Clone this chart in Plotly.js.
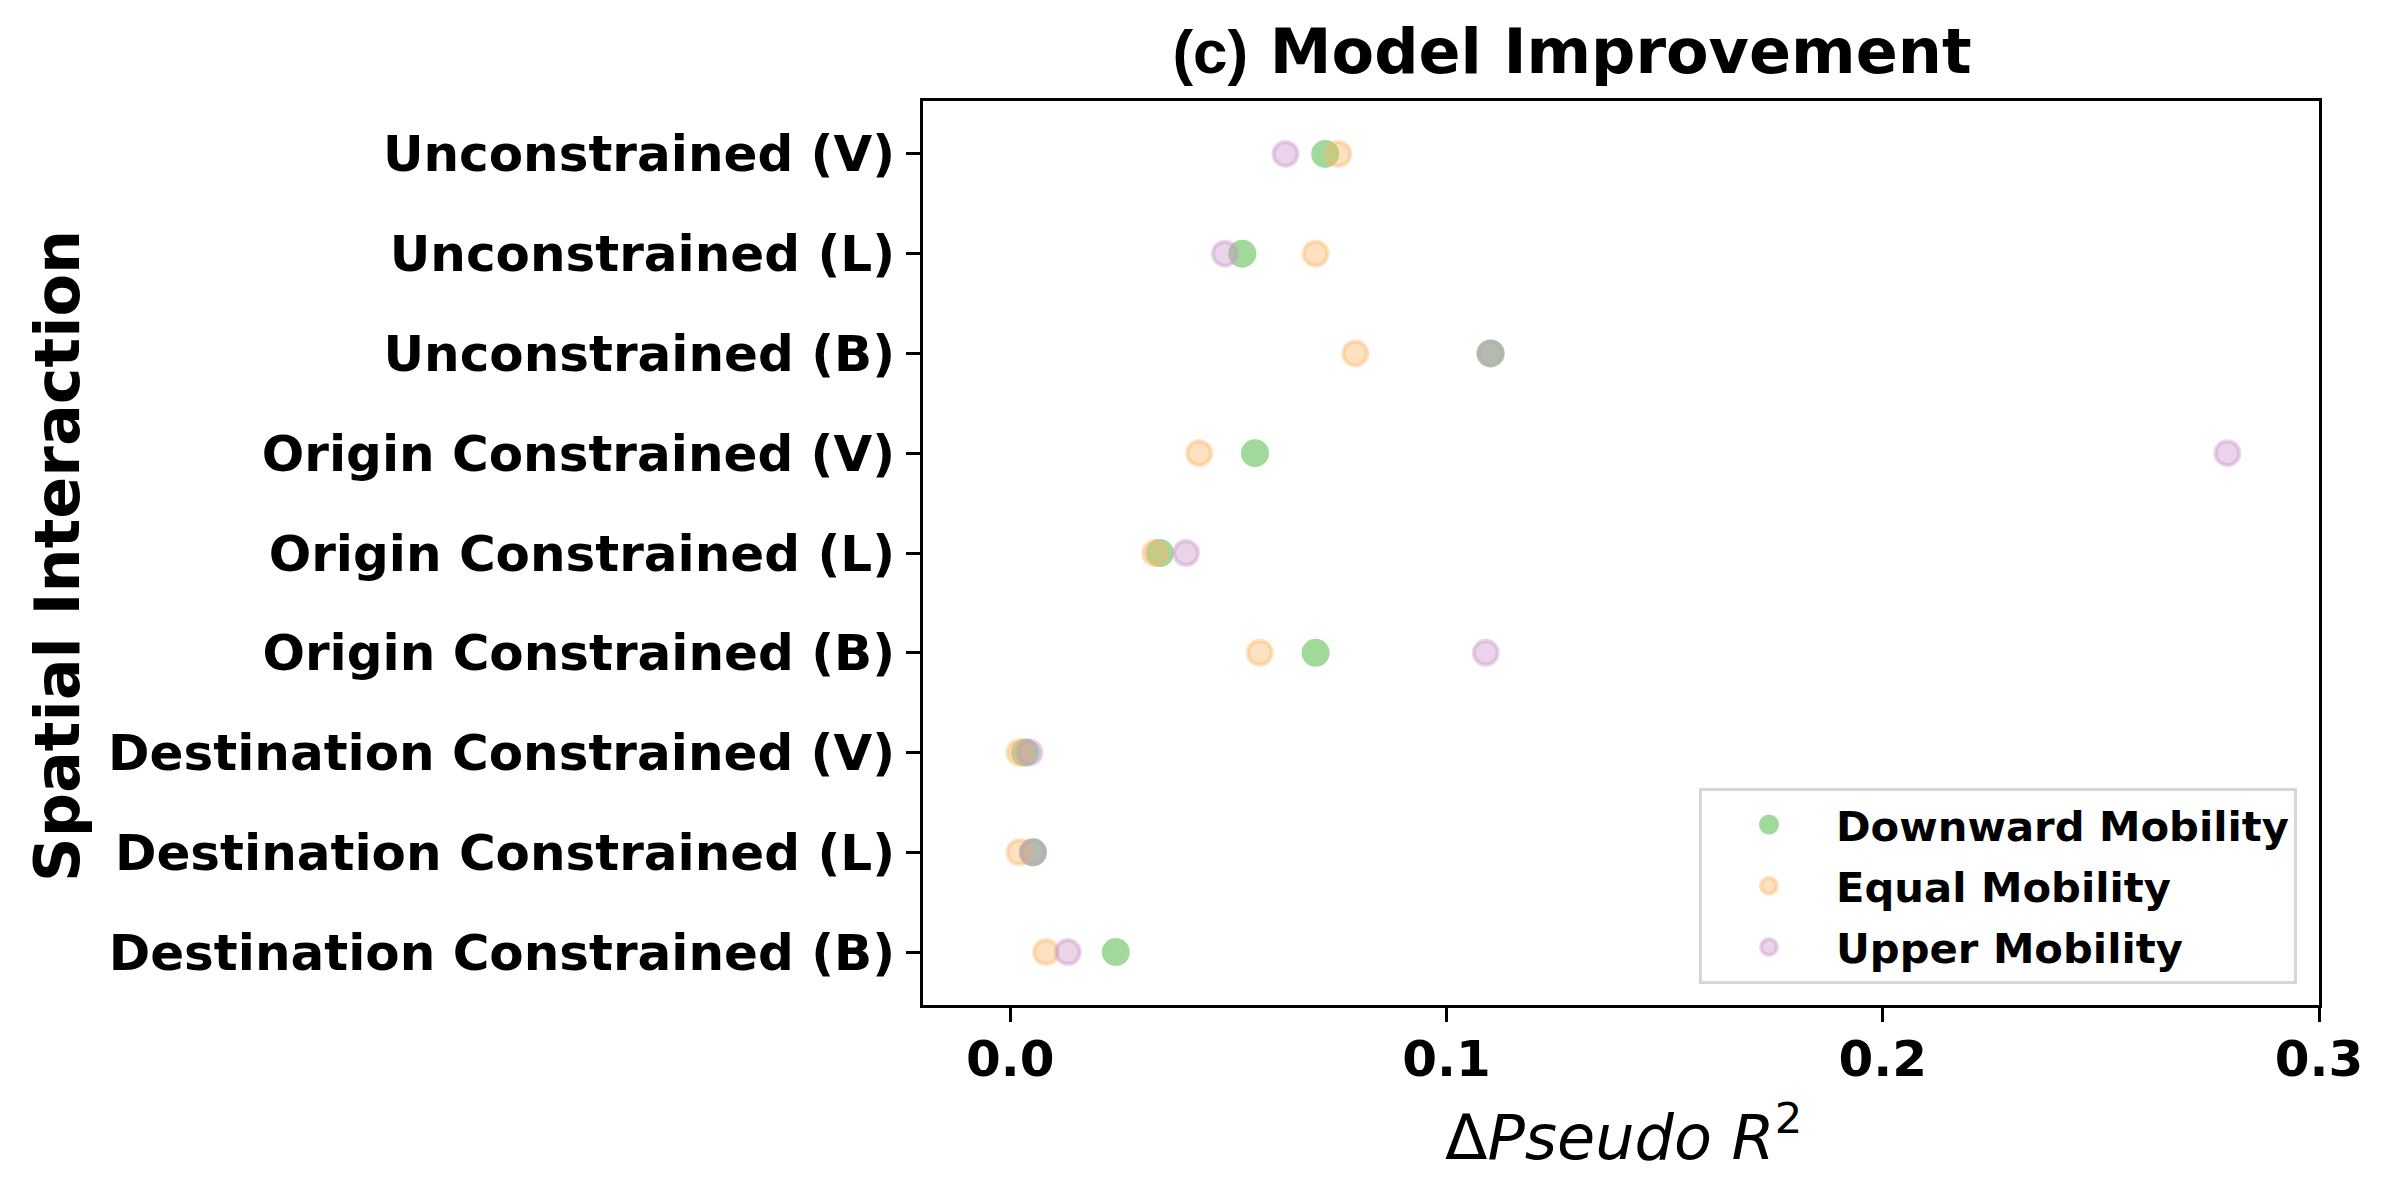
<!DOCTYPE html>
<html>
<head>
<meta charset="utf-8">
<script src="https://cdn.plot.ly/plotly-3.0.1.min.js"></script>
<style>
  html, body { margin: 0; padding: 0; background: #ffffff; }
  #chart { width: 2392px; height: 1195px; }
</style>
</head>
<body>
<div id="chart"></div>
<script>
// ---- data ----
const categories = [
  "Unconstrained (V)",
  "Unconstrained (L)",
  "Unconstrained (B)",
  "Origin Constrained (V)",
  "Origin Constrained (L)",
  "Origin Constrained (B)",
  "Destination Constrained (V)",
  "Destination Constrained (L)",
  "Destination Constrained (B)"
];
const downwardMobility = [0.0722, 0.0532, 0.1101, 0.0561, 0.0343, 0.0700, 0.0034, 0.0052, 0.0242];
const equalMobility    = [0.0752, 0.0700, 0.0791, 0.0433, 0.0332, 0.0572, 0.0021, 0.0021, 0.0082];
const upperMobility    = [0.0631, 0.0492, 0.1101, 0.2790, 0.0403, 0.1090, 0.0044, 0.0052, 0.0132];
const seriesNames = ["Downward Mobility", "Equal Mobility", "Upper Mobility"];
const xTickVals = [0.0, 0.1, 0.2, 0.3];
const xTickText = ["0.0", "0.1", "0.2", "0.3"];

const FONT = "DejaVu Sans";
const W = 2392, H = 1195;
const M = {l: 923, r: 73, t: 101, b: 190};
const plotW = W - M.l - M.r, plotH = H - M.t - M.b;

function trace(name, values, fill, line, group) {
  return {
    type: "scatter",
    mode: "markers",
    name: name,
    legendgroup: group,
    x: values,
    y: categories,
    marker: {size: 24, color: fill, line: {color: line, width: 4}},
    hoverinfo: "skip"
  };
}

const data = [
  trace(seriesNames[0], downwardMobility, "rgb(161,217,155)", "rgb(161,217,155)", "g1"),
  trace(seriesNames[1], equalMobility, "rgba(253,180,98,0.4)", "rgba(253,180,98,0.4)", "g2"),
  trace(seriesNames[2], upperMobility, "rgba(201,148,199,0.4)", "rgba(201,148,199,0.4)", "g3")
];

function px2paperX(px) { return (px - M.l) / plotW; }
function px2paperY(py) { return (H - M.b - py) / plotH; }

const layout = {
  width: W, height: H,
  margin: M,
  paper_bgcolor: "#ffffff",
  plot_bgcolor: "#ffffff",
  showlegend: true,
  font: {family: FONT, color: "#000000"},
  title: {
    text: '<span style="font-family:Liberation Sans">(c)</span> Model Improvement',
    font: {family: FONT, size: 62, weight: "bold", color: "#000000"},
    xref: "container", x: 1572 / W, xanchor: "center",
    yref: "container", y: 1 - 30 / H, yanchor: "top"
  },
  xaxis: {
    range: [-0.02, 0.3],
    tickvals: xTickVals,
    ticktext: xTickText,
    ticks: "outside", ticklen: 14, tickwidth: 3, tickcolor: "#000000",
    showline: true, linewidth: 3, linecolor: "#000000", mirror: true,
    showgrid: false, zeroline: false,
    tickfont: {family: FONT, size: 50, weight: "bold", color: "#000000"},
    ticklabelstandoff: -6
  },
  yaxis: {
    type: "category",
    categoryorder: "array",
    categoryarray: categories,
    range: [8.53, -0.53],
    ticks: "outside", ticklen: 14, tickwidth: 3, tickcolor: "#000000",
    showline: true, linewidth: 3, linecolor: "#000000", mirror: true,
    showgrid: false, zeroline: false,
    tickfont: {family: FONT, size: 50, weight: "bold", color: "#000000"},
    ticklabelstandoff: 1
  },
  legend: {
    x: px2paperX(2297), xanchor: "right",
    y: px2paperY(984), yanchor: "bottom",
    bgcolor: "rgba(255,255,255,0.8)",
    bordercolor: "#d6d6d6", borderwidth: 3,
    font: {family: FONT, size: 41.7, weight: "bold", color: "#000000"},
    itemwidth: 124,
    itemsizing: "trace",
    traceorder: "grouped",
    tracegroupgap: 4
  },
  annotations: [
    {
      text: "Δ<i>Pseudo</i> <i>R</i><sup>2</sup>",
      xref: "paper", yref: "paper",
      x: px2paperX(1623), y: px2paperY(1133),
      xanchor: "center", yanchor: "middle",
      showarrow: false,
      font: {family: FONT, size: 62, color: "#000000"}
    },
    {
      text: "Spatial Interaction",
      xref: "paper", yref: "paper",
      x: px2paperX(57), y: px2paperY(556),
      xanchor: "center", yanchor: "middle",
      textangle: -90,
      showarrow: false,
      font: {family: FONT, size: 62, weight: "bold", color: "#000000"}
    }
  ]
};

Plotly.newPlot("chart", data, layout, {displayModeBar: false, staticPlot: true});
</script>
</body>
</html>
